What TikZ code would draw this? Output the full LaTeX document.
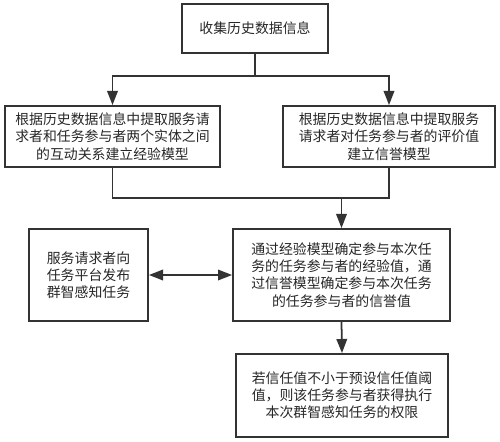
\documentclass[tikz,border=0pt]{standalone}
\usepackage{fontspec}
\setmainfont{Noto Sans CJK SC}
\usetikzlibrary{arrows.meta}
\definecolor{linegray}{HTML}{333333}

\begin{document}
\begin{tikzpicture}[x=0.02cm,y=-0.02cm,line width=1pt,draw=linegray,
  stepbox/.style={draw=linegray,line width=1.1pt,align=center,inner sep=2pt,
    font=\fontsize{7.9pt}{9.8pt}\selectfont,text=black!85},
  arr/.style={-{Triangle[length=8pt,width=6pt]}}]
\useasboundingbox (0,0) rectangle (500,442);
\node[stepbox,minimum width=2.92cm,minimum height=0.98cm] (collect) at (255,28.5) {收集历史数据信息};
\node[stepbox,minimum width=4.3cm,minimum height=1.22cm] (expmodel) at (112.5,136.5)
  {根据历史数据信息中提取服务请\\求者和任务参与者两个实体之间\\的互动关系建立经验模型};
\node[stepbox,minimum width=4.24cm,minimum height=1.22cm] (repmodel) at (389,136.5)
  {根据历史数据信息中提取服务\\请求者对任务参与者的评价值\\建立信誉模型};
\node[stepbox,minimum width=4.34cm,minimum height=1.84cm] (evaluate) at (341.5,275)
  {通过经验模型确定参与本次任\\务的任务参与者的经验值，通\\过信誉模型确定参与本次任务\\的任务参与者的信誉值};
\node[stepbox,minimum width=2.38cm,minimum height=1.84cm] (publish) at (88.5,275)
  {服务请求者向\\任务平台发布\\群智感知任务};
\node[stepbox,minimum width=4.24cm,minimum height=1.66cm] (grant) at (342,395.5)
  {若信任值不小于预设信任值阈\\值，则该任务参与者获得执行\\本次群智感知任务的权限};
\coordinate (split) at (255,76);
\coordinate (merge) at (341.5,198);
\draw (collect.south) -- (split);
\draw[arr] (split) -| (expmodel.north);
\draw[arr] (split) -| (repmodel.north);
\draw (expmodel.south) |- (merge);
\draw (repmodel.south) |- (merge);
\draw[arr] (merge) -- (evaluate.north);
\draw[{Triangle[length=8pt,width=6pt]}-{Triangle[length=8pt,width=6pt]}] (publish.east) -- (evaluate.west);
\draw[arr] (evaluate.south) -- (grant.north);
\end{tikzpicture}
\end{document}
